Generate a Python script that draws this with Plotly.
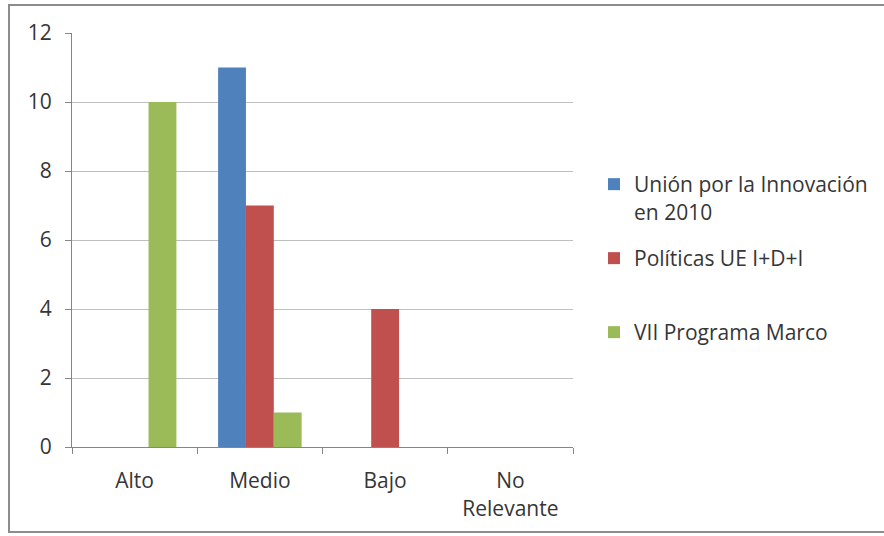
import plotly.graph_objects as go

categories = ["Alto", "Medio", "Bajo", "No<br>Relevante"]
series_names = ["Unión por la Innovación<br>en 2010", "Políticas UE I+D+I", "VII Programa Marco"]
union_vals = [0, 11, 0, 0]
politicas_vals = [0, 7, 4, 0]
programa_vals = [10, 1, 0, 0]
colors = ["#4F81BD", "#C0504D", "#9BBB59"]
y_ticks = [0, 2, 4, 6, 8, 10, 12]

W, H = 884, 536
L, R, T, B = 72, 573, 33, 447

font_family = "'Open Sans', Lato, sans-serif"
txt_color = "#363636"
fsize = 21

fig = go.Figure()
all_vals = [union_vals, politicas_vals, programa_vals]
legend_ids = ["legend", "legend2", "legend3"]
for name, vals, col, lg in zip(series_names, all_vals, colors, legend_ids):
    fig.add_trace(go.Bar(x=categories, y=vals, name=name, marker=dict(color=col, line=dict(width=0)),
                         legend=lg, showlegend=True))

def px_to_paper_x(px):
    return (px - L) / (R - L)

def px_to_paper_y(py):
    return (B - py) / (B - T)

legend_common = dict(xref="container", yref="container", xanchor="left", yanchor="top",
                     font=dict(family=font_family, size=fsize, color=txt_color),
                     bgcolor="rgba(0,0,0,0)", itemwidth=30, valign="top")

fig.update_layout(
    width=W, height=H,
    margin=dict(l=L, r=W - R, t=T, b=H - B, pad=0),
    paper_bgcolor="white", plot_bgcolor="white",
    showlegend=True,
    barmode="group", bargap=0.333, bargroupgap=0,
    font=dict(family=font_family, size=fsize, color=txt_color),
    legend=dict(x=594 / W, y=1 - 164 / H, **legend_common),
    legend2=dict(x=594 / W, y=1 - 238 / H, **legend_common),
    legend3=dict(x=594 / W, y=1 - 312 / H, **legend_common),
    xaxis=dict(showline=True, linecolor="#868686", linewidth=1, ticks="outside", ticklen=6,
               tickcolor="#868686", tickson="boundaries", showgrid=False,
               tickfont=dict(size=fsize, color=txt_color), ticklabelstandoff=15),
    yaxis=dict(range=[0, 12], tickvals=y_ticks, showline=True, linecolor="#868686", linewidth=1,
               ticks="outside", ticklen=6, tickcolor="#868686", showgrid=True,
               gridcolor="#BFBFBF", gridwidth=1, zeroline=False,
               tickfont=dict(size=fsize, color=txt_color), ticklabelstandoff=9),
    shapes=[dict(type="rect", xref="paper", yref="paper",
                 x0=px_to_paper_x(9), x1=px_to_paper_x(900),
                 y0=px_to_paper_y(532), y1=px_to_paper_y(5),
                 line=dict(color="#8C8C8C", width=2), fillcolor="rgba(0,0,0,0)", layer="below")],
)

fig.write_html("out.html")
